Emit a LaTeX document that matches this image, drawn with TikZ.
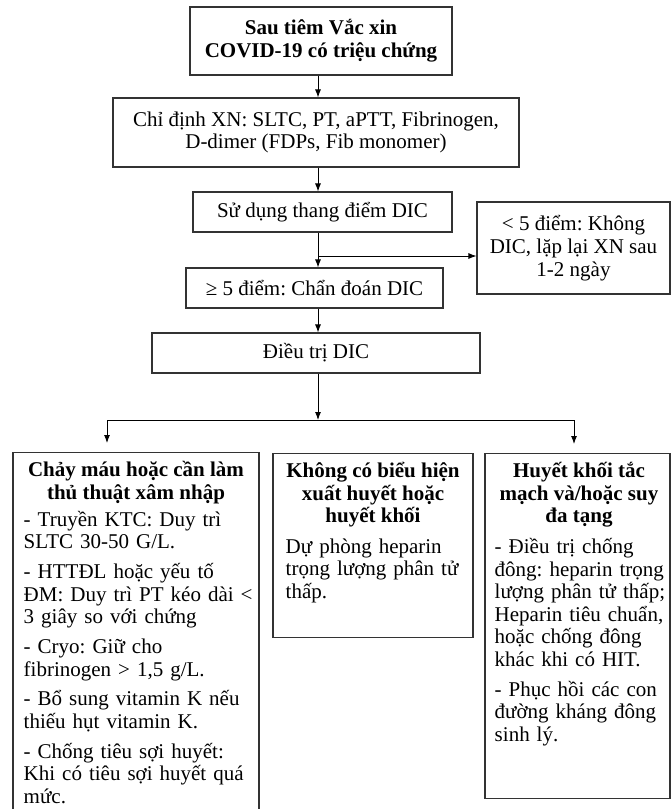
\documentclass[tikz,border=0pt]{standalone}
\usepackage{fontspec}
\setmainfont{Liberation Serif}
\usetikzlibrary{arrows.meta,positioning,calc}
\frenchspacing

\begin{document}
\begin{tikzpicture}[x=0.75pt, y=-0.75pt,
    box/.style={draw=black!80, line width=0.8pt, inner sep=0pt, align=center,
      font=\fontsize{15.75}{17}\selectfont},
    panel/.style={draw=black!80, line width=0.8pt, inner sep=0pt, anchor=north},
    panelhead/.style={inner sep=0pt, anchor=north, align=center},
    paneltxt/.style={inner sep=0pt, anchor=north west, align=left},
    arr/.style={-{Latex[length=6pt,width=4.5pt]}, line width=0.7pt}]
    \useasboundingbox (0,0) rectangle (671,809);

    % top chain
    \node[box, minimum width=196.5pt, minimum height=51pt] (start) at (321,41)
      {\bfseries Sau tiêm Vắc xin\\ \bfseries COVID-19 có triệu chứng};
    \node[box, minimum width=304.5pt, minimum height=51.75pt] (tests) at (316,132.5)
      {Chỉ định XN: SLTC, PT, aPTT, Fibrinogen,\\ D-dimer (FDPs, Fib monomer)};
    \node[box, minimum width=194.25pt, minimum height=30pt] (score) at (322.5,212)
      {Sử dụng thang điểm DIC};
    \node[box, minimum width=144.75pt, minimum height=69pt] (nodic) at (573.5,248)
      {< 5 điểm: Không\\ DIC, lặp lại XN sau\\ 1-2 ngày};
    \node[box, minimum width=192.75pt, minimum height=30pt] (dic) at (314.5,288)
      {≥ 5 điểm: Chẩn đoán DIC};
    \node[box, minimum width=246pt, minimum height=30pt] (treat) at (316,353)
      {Điều trị DIC};

    % three panels
    \node[panel, minimum width=184.5pt, minimum height=277.5pt] (bleed) at (136,452) {};
    \node[panel, minimum width=150pt, minimum height=138pt] (none) at (373,453) {};
    \node[panel, minimum width=138.75pt, minimum height=258.75pt] (clot) at (577.5,453) {};

    \node[panelhead, font=\fontsize{15.75}{16.9}\selectfont\bfseries] (bleedhead) at (136,461)
      {Chảy máu hoặc cần làm\\ thủ thuật xâm nhập};
    \node[paneltxt, text width=180pt, font=\fontsize{15.75}{17}\selectfont,
      execute at begin node={\setlength{\parskip}{5.25pt}}] (bleedtxt)
      at ($(bleed.west |- bleedhead.south)+(11,7)$)
      {- Truyền KTC: Duy trì\\ SLTC 30-50 G/L.\par
       - HTTĐL hoặc yếu tố\\ ĐM: Duy trì PT kéo dài <\\ 3 giây so với chứng\par
       - Cryo: Giữ cho\\ fibrinogen > 1,5 g/L.\par
       - Bổ sung vitamin K nếu\\ thiếu hụt vitamin K.\par
       - Chống tiêu sợi huyết:\\ Khi có tiêu sợi huyết quá\\ mức.};

    \node[panelhead, font=\fontsize{15.75}{17}\selectfont\bfseries] (nonehead) at (373,462)
      {Không có biểu hiện\\ xuất huyết hoặc\\ huyết khối};
    \node[paneltxt, text width=145pt, font=\fontsize{15.75}{16.9}\selectfont] (nonetxt)
      at ($(none.west |- nonehead.south)+(13,10.5)$)
      {Dự phòng heparin\\ trọng lượng phân tử\\ thấp.};

    \node[panelhead, font=\fontsize{15.75}{16.9}\selectfont\bfseries] (clothead) at (579,462)
      {Huyết khối tắc\\ mạch và/hoặc suy\\ đa tạng};
    \node[paneltxt, text width=135pt, font=\fontsize{15.75}{16.9}\selectfont,
      execute at begin node={\setlength{\parskip}{5.5pt}}] (clottxt)
      at ($(clot.west |- clothead.south)+(10,10.5)$)
      {- Điều trị chống\\ đông: heparin trọng\\ lượng phân tử thấp;\\ Heparin tiêu chuẩn,\\ hoặc chống đông\\ khác khi có HIT.\par
       - Phục hồi các con\\ đường kháng đông\\ sinh lý.};

    % connectors
    \coordinate (spine) at (318,0);
    \coordinate (split) at (318,256);
    \coordinate (fork) at (318,420);
    \coordinate (forkL) at (107,420);
    \coordinate (forkR) at (574,420);

    \draw[arr] (start.south -| spine) -- (tests.north -| spine);
    \draw[arr] (tests.south -| spine) -- (score.north -| spine);
    \draw[arr] (score.south -| spine) -- (dic.north -| spine);
    \draw[arr] (split) -- (split -| nodic.west);
    \draw[arr] (dic.south -| spine) -- (treat.north -| spine);
    \draw[arr] (treat.south -| spine) -- (fork);
    \draw[line width=0.7pt] (forkL) -- (forkR);
    \draw[arr, shorten >=6.75pt] (forkL) -- (forkL |- bleed.north);
    \draw[arr, shorten >=6.75pt] (forkR) -- (forkR |- clot.north);
\end{tikzpicture}
\end{document}
